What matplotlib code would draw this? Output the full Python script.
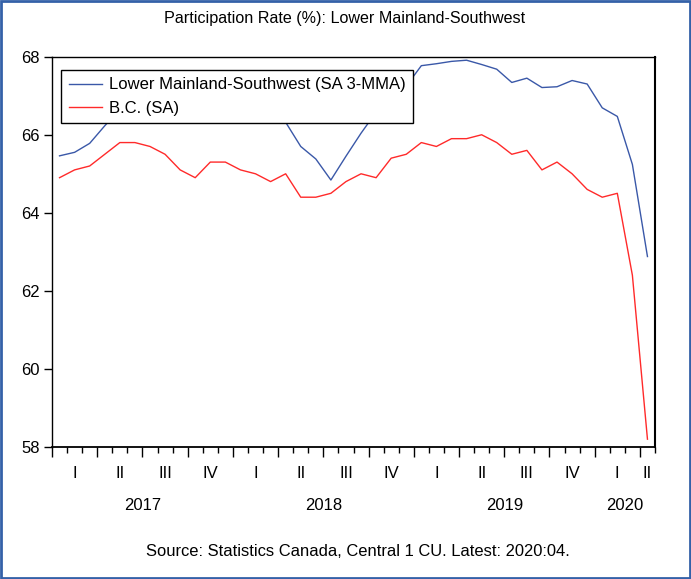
import matplotlib
matplotlib.use("Agg")
import matplotlib.pyplot as plt
import matplotlib.transforms as mtransforms
from matplotlib.patches import Rectangle
import numpy as np

plt.rcParams['font.family'] = ['Liberation Sans', 'DejaVu Sans']

# Monthly data 2017:01 - 2020:04
lower_mainland = [65.46, 65.55, 65.78, 66.23, 66.65, 66.95, 67.05, 67.10, 67.00, 66.90,
                  66.90, 67.00, 67.00, 66.85, 66.65, 66.32, 65.70, 65.38, 64.84, 65.45,
                  66.04, 66.58, 66.95, 67.25, 67.77, 67.82, 67.88, 67.91, 67.80, 67.68,
                  67.34, 67.45, 67.21, 67.23, 67.39, 67.30, 66.69, 66.47, 65.24, 62.88]
bc = [64.9, 65.1, 65.2, 65.5, 65.8, 65.8, 65.7, 65.5, 65.1, 64.9, 65.3, 65.3,
      65.1, 65.0, 64.8, 65.0, 64.4, 64.4, 64.5, 64.8, 65.0, 64.9, 65.4, 65.5,
      65.8, 65.7, 65.9, 65.9, 66.0, 65.8, 65.5, 65.6, 65.1, 65.3, 65.0, 64.6,
      64.4, 64.5, 62.4, 58.2]
quarter_labels = ['I', 'II', 'III', 'IV'] * 3 + ['I', 'II']
year_labels = ['2017', '2018', '2019', '2020']
months_per_year = [12, 12, 12, 4]
y_ticks = [58, 60, 62, 64, 66, 68]

title = 'Participation Rate (%): Lower Mainland-Southwest'
source = 'Source: Statistics Canada, Central 1 CU. Latest: 2020:04.'
series_names = ['Lower Mainland-Southwest (SA 3-MMA)', 'B.C. (SA)']

n = len(bc)
x = np.arange(n) + 0.5

fig = plt.figure(figsize=(6.91, 5.79), dpi=100)
ax = fig.add_axes([52/691, 1-447/579, (655-52)/691, (447-56.7)/579])

ax.plot(x, lower_mainland, color='#3A58A8', lw=1.0, label=series_names[0])
ax.plot(x, bc, color='#FF2A2A', lw=1.0, label=series_names[1])

ax.set_xlim(0, n)
ax.set_ylim(58, 68)
ax.set_yticks(y_ticks)
ax.set_yticklabels([str(v) for v in y_ticks], fontsize=12)

# x ticks: quarter boundaries major, months minor
ax.set_xticks(np.arange(0, n + 1, 3))
ax.set_xticks(np.arange(0, n + 1, 1), minor=True)
ax.tick_params(axis='x', which='major', length=7, width=1, labelbottom=False, direction='out')
ax.tick_params(axis='x', which='minor', length=4, width=1, direction='out')
ax.tick_params(axis='y', length=6, width=1, direction='out', pad=3)

trans = mtransforms.blended_transform_factory(ax.transData, ax.transAxes)
for i, q in enumerate(quarter_labels):
    start = i * 3
    end = min(start + 3, n)
    ax.text((start + end) / 2, -0.068, q, transform=trans, ha='center', va='center', fontsize=12)
start = 0
for yl, m in zip(year_labels, months_per_year):
    ax.text(start + m / 2, -0.15, yl, transform=trans, ha='center', va='center', fontsize=12)
    start += m

for s in ax.spines.values():
    s.set_linewidth(1.0)
    s.set_color('black')
ax.spines['right'].set_linewidth(1.5)
ax.spines['bottom'].set_linewidth(1.3)

leg = ax.legend(loc='upper left', bbox_to_anchor=(0.015, 0.966), borderaxespad=0,
                fontsize=12, frameon=True, fancybox=False, handlelength=2.0,
                handletextpad=0.42, borderpad=0.45, labelspacing=0.5)
leg.get_frame().set_edgecolor('black')
leg.get_frame().set_linewidth(1.0)
leg.get_frame().set_alpha(1)

fig.text(345/691, 1-18/579, title, ha='center', va='center', fontsize=11.6)
fig.text(358/691, 1-551/579, source, ha='center', va='center', fontsize=11.9)

fig.patches.append(Rectangle((0.002, 0.002), 0.996, 0.996, transform=fig.transFigure,
                             fill=False, edgecolor='#3461A8', linewidth=2.0))

fig.savefig('out.png', dpi=100)
